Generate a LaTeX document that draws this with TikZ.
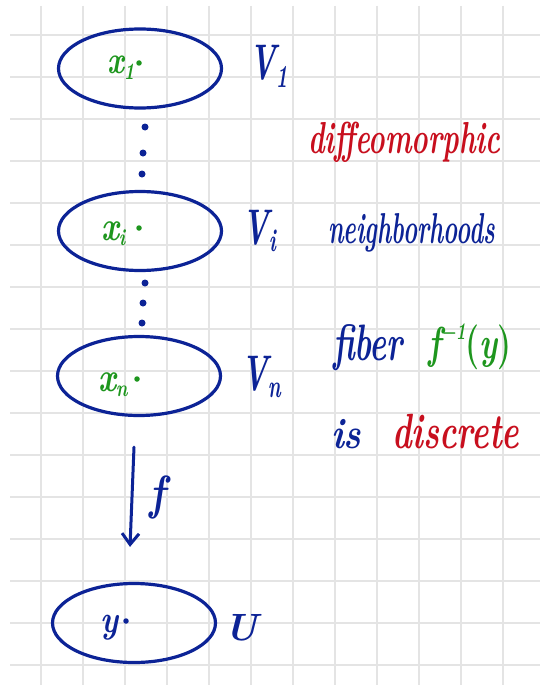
\documentclass[tikz,border=0pt]{standalone}
\usetikzlibrary{shapes.geometric,arrows.meta}
\definecolor{inkblue}{RGB}{12,35,150}
\definecolor{inkgreen}{RGB}{30,150,30}
\definecolor{inkred}{RGB}{200,15,30}
\definecolor{gridgray}{RGB}{228,228,228}
\newcommand{\fsz}[1]{\fontsize{#1}{#1}\selectfont}
\newcommand{\tallw}[2]{\scalebox{1}[#1]{#2}}
\newcommand{\myVlab}[1]{\scalebox{0.62}[1]{\fsz{50}\bfseries\itshape V\raisebox{-7pt}{\fsz{32}#1}}}
\newcommand{\myPt}[2]{\tallw{1.3}{\fsz{#1}\bfseries\itshape x\raisebox{-4pt}{\fsz{18}#2}}}
\tikzset{
  gridline/.style={draw=gridgray, line width=1.6pt},
  setbox/.style={ellipse, draw=inkblue, line width=3.2pt, minimum width=163pt, minimum height=79pt, inner sep=0pt},
  ptdot/.style={circle, fill=#1, inner sep=0pt, minimum size=5.5pt},
  vdot/.style={circle, fill=inkblue, inner sep=0pt, minimum size=7pt},
  txt/.style={anchor=base west, inner sep=0pt, outer sep=0pt, font=\bfseries\itshape},
  maparrow/.style={draw=inkblue, line width=3pt, line cap=round, -{Straight Barb[length=11pt,width=17pt,line width=3pt]}}
}
\begin{document}
\begin{tikzpicture}[x=1pt,y=-1pt]
\useasboundingbox (0,0) rectangle (540,685);
\fill[white] (0,0) rectangle (540,685);
% grid
\foreach \k in {0,...,15} \draw[gridline] (10,35+42*\k) -- (540,35+42*\k);
\foreach \k in {0,...,11} \draw[gridline] (41+42*\k,6) -- (41+42*\k,685);
% neighbourhoods
\node[setbox] (V1) at (140,68.5) {};
\node[setbox] (Vi) at (140,231) {};
\node[setbox] (Vn) at (139,376) {};
\node[setbox] (U) at (134,623) {};
% points
\node[txt, text=inkgreen] (x1) at (107,74) {\myPt{30}{1}};
\node[ptdot=inkgreen] (p1) at (139,63) {};
\node[txt, text=inkgreen] (xi) at (101,240) {\myPt{32}{i}};
\node[ptdot=inkgreen] (pi) at (139,228) {};
\node[txt, text=inkgreen] (xn) at (98,391) {\myPt{32}{n}};
\node[ptdot=inkgreen] (pn) at (137,379) {};
\node[txt, text=inkblue] (y) at (100,632) {\tallw{1.2}{\fsz{32}y}};
\node[ptdot=inkblue] (py) at (126,621) {};
% labels of sets
\node[txt, text=inkblue] (lV1) at (249,80) {\myVlab{1}};
\node[txt, text=inkblue] (lVi) at (242,244) {\myVlab{i}};
\node[txt, text=inkblue] (lVn) at (241,390) {\myVlab{n}};
\node[txt, text=inkblue] (lU) at (224,640) {\fsz{38}U};
% vertical dots
\node[vdot] (d1) at (145,127) {};
\node[vdot] (d2) at (143,153) {};
\node[vdot] (d3) at (142,174) {};
\node[vdot] (d4) at (145,283) {};
\node[vdot] (d5) at (143,303) {};
\node[vdot] (d6) at (142,323) {};
% map f
\coordinate (fs) at ([xshift=-5pt,yshift=-30pt]Vn.south);
\coordinate (fe) at ([xshift=-4pt,yshift=35pt]U.north);
\draw[maparrow] (fs) -- (fe);
\node[txt, text=inkblue] (flab) at (149,509) {\tallw{1.2}{\fsz{40}f}};
% right-hand text
\node[txt, text=inkred] (t1) at (308,153) {\tallw{1.6}{\fsz{28}diffeomorphic}};
\node[txt, text=inkblue] (t2) at (328,243) {\tallw{1.8}{\fsz{24}neighborhoods}};
\node[txt, text=inkblue] (t3) at (333,360) {\tallw{1.6}{\fsz{32}fiber}};
\node[txt, text=inkgreen] (t4) at (428,358) {\tallw{1.4}{\fsz{32}f\raisebox{13pt}{\fsz{17}\symbol{"2212}1}\upshape(\itshape y\upshape)}};
\node[txt, text=inkblue] (t5) at (331,448) {\tallw{1.2}{\fsz{36}is}};
\node[txt, text=inkred] (t6) at (392,448) {\tallw{1.5}{\fsz{33}discrete}};
\end{tikzpicture}
\end{document}
